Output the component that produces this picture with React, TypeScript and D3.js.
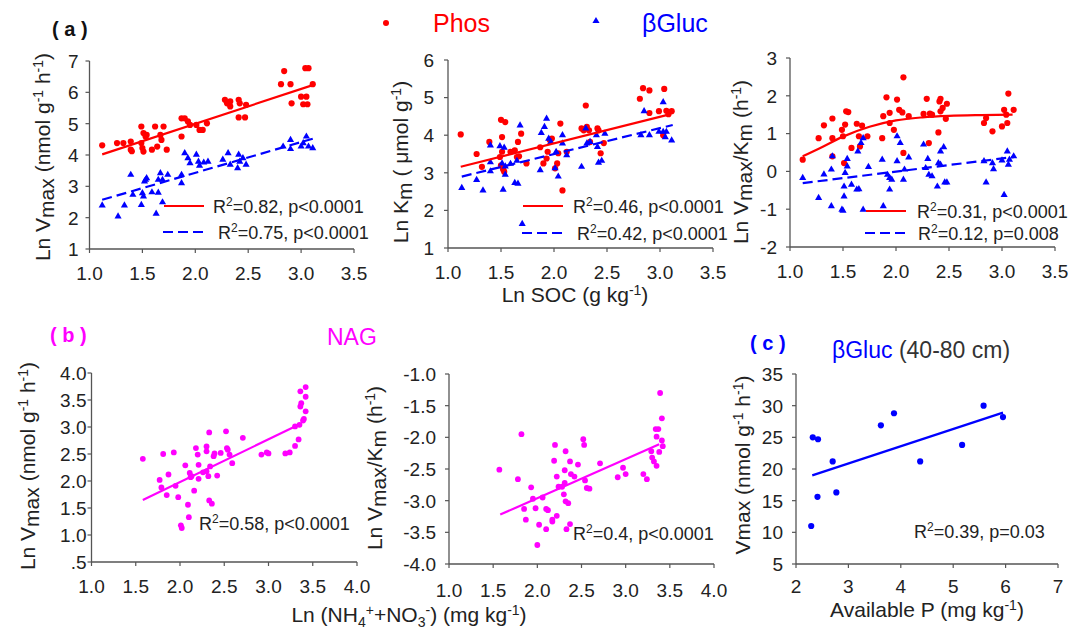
import React from "react";
import * as d3 from "d3";

type Pt = [number, number];

const FONT = "'Liberation Sans', Arial, Helvetica, sans-serif";
const RED = "#ff0000";
const BLUE = "#0000ff";
const MAG = "#ff00ff";
const AXIS = "#555555";
const TXT = "#222222";

// ---------- Panel (a) : Ln SOC ----------
const SOC_TICKS = [1.0, 1.5, 2.0, 2.5, 3.0, 3.5];
const SOC_TICK_LABELS = ["1.0", "1.5", "2.0", "2.5", "3.0", "3.5"];

const VMAX_TICKS = [1, 2, 3, 4, 5, 6, 7];
const KM_TICKS = [1, 2, 3, 4, 5, 6];
const VK_TICKS = [-2, -1, 0, 1, 2, 3];

const A1_PHOS: Pt[] = [
  [1.12, 4.31], [1.26, 4.38], [1.32, 4.38], [1.39, 4.43], [1.39, 4.17], [1.4, 4.12],
  [1.49, 4.91], [1.51, 4.7], [1.53, 4.59], [1.49, 4.38], [1.5, 4.22], [1.51, 4.11],
  [1.54, 4.64], [1.62, 4.91], [1.64, 4.27], [1.59, 4.17], [1.67, 4.64], [1.7, 4.91],
  [1.68, 4.48], [1.73, 4.17], [1.87, 4.59], [1.87, 5.17], [1.9, 5.17], [1.93, 5.07],
  [1.95, 4.96], [2.01, 4.96], [2.04, 4.8], [2.07, 4.8], [2.11, 5.01], [2.28, 5.76],
  [2.3, 5.65], [2.33, 5.55], [2.33, 5.71], [2.41, 5.76], [2.42, 5.65], [2.41, 5.2],
  [2.47, 5.2], [2.48, 5.6], [2.84, 6.68], [2.81, 6.26], [2.9, 6.26], [2.91, 5.65],
  [3.0, 5.86], [3.05, 5.86], [3.02, 5.62], [3.06, 5.62], [3.04, 6.77], [3.07, 6.77],
  [3.11, 6.26],
];
const A1_GLUC: Pt[] = [
  [1.12, 2.39], [1.27, 2.04], [1.33, 2.39], [1.39, 3.37], [1.41, 2.73], [1.49, 2.41],
  [1.51, 2.68], [1.52, 3.16], [1.53, 3.21], [1.54, 3.26], [1.5, 2.78], [1.59, 2.81],
  [1.63, 2.13], [1.65, 2.8], [1.65, 3.21], [1.67, 3.42], [1.69, 2.49], [1.69, 3.21],
  [1.74, 3.37], [1.87, 3.37], [1.87, 3.1], [1.9, 4.06], [1.93, 3.9], [1.95, 3.74],
  [2.01, 4.01], [2.03, 3.79], [2.04, 3.66], [2.08, 3.76], [2.12, 3.79], [2.26, 3.85],
  [2.31, 4.06], [2.33, 3.69], [2.4, 3.58], [2.41, 4.01], [2.42, 3.79], [2.45, 3.9],
  [2.48, 3.69], [2.83, 4.27], [2.9, 4.48], [2.9, 4.19], [3.0, 4.27], [3.02, 4.38],
  [3.05, 4.59], [3.07, 4.27], [3.11, 4.22],
];
const A1_PHOS_FIT: Pt[] = [[1.12, 4.02], [3.11, 6.23]];
const A1_GLUC_FIT: Pt[] = [[1.12, 2.57], [3.11, 4.52]];
const A1_STATS = ["=0.82, p<0.0001", "=0.75, p<0.0001"];

const A2_PHOS: Pt[] = [
  [1.12, 4.02], [1.27, 3.5], [1.32, 3.16], [1.39, 3.82], [1.5, 4.41], [1.54, 4.35],
  [1.51, 3.95], [1.49, 3.42], [1.5, 3.2], [1.52, 3.09], [1.53, 3.03], [1.51, 3.56],
  [1.59, 3.56], [1.63, 3.6], [1.65, 3.42], [1.67, 3.44], [1.66, 3.82], [1.69, 4.04],
  [1.74, 3.25], [1.87, 3.68], [1.9, 3.25], [1.93, 3.38], [1.94, 3.56], [1.96, 3.87],
  [1.98, 3.91], [2.01, 3.12], [2.03, 3.25], [2.06, 4.31], [2.08, 2.53], [2.04, 3.52],
  [2.12, 3.56], [2.26, 4.18], [2.28, 4.13], [2.3, 4.79], [2.31, 4.22], [2.33, 4.13],
  [2.34, 3.82], [2.41, 4.18], [2.42, 4.13], [2.44, 3.52], [2.47, 3.79], [2.81, 4.97],
  [2.84, 5.25], [2.9, 5.19], [2.9, 4.59], [2.99, 4.64], [3.03, 4.0], [3.04, 5.23],
  [3.06, 4.65], [3.08, 4.56], [3.11, 4.64],
];
const A2_GLUC: Pt[] = [
  [1.13, 2.6], [1.27, 2.81], [1.33, 2.53], [1.4, 3.73], [1.4, 3.04], [1.4, 3.28],
  [1.49, 3.71], [1.51, 3.25], [1.52, 2.55], [1.53, 3.67], [1.54, 2.95], [1.54, 3.17],
  [1.59, 3.24], [1.63, 2.73], [1.66, 2.71], [1.65, 3.32], [1.68, 4.26], [1.87, 3.07],
  [1.88, 4.06], [1.91, 4.22], [1.93, 4.44], [1.95, 3.91], [1.97, 3.82], [2.01, 3.12],
  [2.02, 3.56], [2.04, 2.9], [2.08, 4.0], [2.08, 3.78], [2.12, 3.47], [2.26, 3.16],
  [2.3, 4.18], [2.31, 3.78], [2.34, 3.82], [2.4, 4.0], [2.41, 3.69], [2.42, 3.27],
  [2.45, 3.32], [2.48, 4.04], [2.85, 4.64], [2.82, 4.0], [2.9, 4.0], [2.99, 4.09],
  [3.03, 4.88], [3.03, 4.09], [3.05, 3.95], [3.06, 4.09], [3.11, 3.86], [1.7, 1.64],
];
const A2_PHOS_FIT: Pt[] = [[1.12, 3.16], [3.1, 4.56]];
const A2_GLUC_FIT: Pt[] = [[1.13, 2.9], [3.12, 4.27]];
const A2_STATS = ["=0.46, p<0.0001", "=0.42, p<0.0001"];

const A3_PHOS: Pt[] = [
  [1.12, 0.31], [1.27, 0.88], [1.32, 1.22], [1.4, 1.4], [1.4, 0.88], [1.4, 0.4],
  [1.49, 1.1], [1.5, 0.93], [1.51, 0.22], [1.52, 1.24], [1.53, 1.59], [1.55, 1.57],
  [1.58, 0.62], [1.63, 1.26], [1.65, 0.93], [1.66, 0.66], [1.68, 1.21], [1.73, 0.93],
  [1.87, 0.88], [1.88, 1.46], [1.91, 1.96], [1.94, 1.55], [1.94, 1.28], [1.98, 1.1],
  [2.01, 1.9], [2.03, 1.63], [2.06, 1.56], [2.07, 2.49], [2.07, 0.49], [2.12, 1.46],
  [2.26, 1.52], [2.29, 1.92], [2.31, 0.75], [2.32, 1.53], [2.34, 1.5], [2.4, 1.03],
  [2.41, 1.85], [2.42, 1.92], [2.42, 1.59], [2.44, 1.68], [2.47, 1.39], [2.48, 1.79],
  [2.83, 1.28], [2.85, 1.41], [2.91, 1.06], [3.0, 1.19], [3.02, 1.63], [3.04, 1.5],
  [3.05, 1.28], [3.06, 2.06], [3.11, 1.63],
];
const A3_GLUC: Pt[] = [
  [1.12, -0.17], [1.27, -0.7], [1.32, -0.08], [1.39, -0.92], [1.39, 0.05], [1.4, 0.4],
  [1.49, -1.01], [1.5, -1.04], [1.51, -0.66], [1.51, -0.4], [1.52, -0.04], [1.54, 0.13],
  [1.54, 0.33], [1.58, -0.35], [1.63, -0.48], [1.65, -0.47], [1.64, 0.53], [1.67, 0.75],
  [1.69, 0.88], [1.69, -1.01], [1.74, 0.12], [1.87, 0.31], [1.88, -0.92], [1.92, -0.09],
  [1.94, -0.48], [1.94, -0.17], [1.96, -0.22], [2.01, 0.27], [2.01, 0.93], [2.04, 0.75],
  [2.07, -0.22], [2.08, 0.05], [2.12, 0.37], [2.26, 0.71], [2.28, 0.09], [2.3, 0.33],
  [2.31, -0.09], [2.34, -0.13], [2.39, -0.4], [2.4, 0.22], [2.42, 0.18], [2.42, 0.53],
  [2.45, 0.64], [2.46, -0.29], [2.48, -0.29], [2.83, 0.27], [2.85, -0.29], [2.91, 0.22],
  [2.92, 0.06], [3.0, 0.29], [3.02, -0.62], [3.05, 0.53], [3.06, 0.18], [3.07, 0.31],
  [3.11, 0.4],
];
const A3_PHOS_FIT: Pt[] = [
  [1.12, 0.4], [1.3, 0.64], [1.5, 0.92], [1.75, 1.18], [2.0, 1.35], [2.25, 1.43],
  [2.5, 1.47], [2.8, 1.49], [3.1, 1.5],
];
const A3_GLUC_FIT: Pt[] = [[1.12, -0.31], [3.11, 0.38]];
const A3_STATS = ["=0.31, p<0.0001", "=0.12, p=0.008"];

// ---------- Panel (b) : NAG ----------
const N_TICKS = [1.0, 1.5, 2.0, 2.5, 3.0, 3.5, 4.0];
const N_TICK_LABELS = ["1.0", "1.5", "2.0", "2.5", "3.0", "3.5", "4.0"];
const B1_Y_TICKS = [0.5, 1.0, 1.5, 2.0, 2.5, 3.0, 3.5, 4.0];
const B1_Y_LABELS = [".5", "1.0", "1.5", "2.0", "2.5", "3.0", "3.5", "4.0"];
const B2_Y_TICKS = [-4.0, -3.5, -3.0, -2.5, -2.0, -1.5, -1.0];
const B2_Y_LABELS = ["-4.0", "-3.5", "-3.0", "-2.5", "-2.0", "-1.5", "-1.0"];

const B1_NAG: Pt[] = [
  [1.58, 2.41], [1.77, 2.02], [1.79, 1.88], [1.81, 2.5], [1.85, 1.74], [1.87, 2.12],
  [1.93, 2.53], [1.95, 1.91], [1.98, 1.7], [2.01, 1.18], [2.02, 1.13], [2.06, 2.29],
  [2.09, 1.56], [2.1, 1.33], [2.11, 2.15], [2.12, 2.07], [2.13, 2.09], [2.16, 1.82],
  [2.18, 2.61], [2.2, 2.49], [2.21, 2.3], [2.21, 2.04], [2.26, 2.16], [2.3, 2.64],
  [2.3, 2.55], [2.3, 2.18], [2.32, 2.09], [2.33, 2.9], [2.33, 1.64], [2.36, 1.58],
  [2.34, 2.27], [2.38, 2.46], [2.39, 2.51], [2.42, 2.1], [2.46, 2.52], [2.52, 2.92],
  [2.53, 2.61], [2.54, 2.58], [2.56, 2.49], [2.59, 2.33], [2.71, 2.8], [2.92, 2.49],
  [2.98, 2.53], [3.0, 2.51], [3.19, 2.51], [3.24, 2.53], [3.3, 2.65], [3.3, 3.01],
  [3.34, 2.77], [3.35, 3.04], [3.36, 3.38], [3.36, 3.66], [3.37, 3.44], [3.39, 3.12],
  [3.4, 3.15], [3.42, 3.74], [3.42, 3.56], [3.42, 3.29],
];
const B1_FIT: Pt[] = [[1.58, 1.65], [3.34, 3.04]];
const B2_NAG: Pt[] = [
  [1.57, -2.51], [1.78, -2.66], [1.82, -1.95], [1.85, -3.13], [1.87, -3.3], [1.93, -2.79],
  [1.95, -2.97], [1.98, -3.12], [2.0, -3.7], [2.02, -3.38], [2.06, -2.95], [2.1, -3.45],
  [2.1, -3.13], [2.12, -3.15], [2.17, -3.3], [2.17, -3.33], [2.19, -2.37], [2.2, -2.12],
  [2.22, -2.62], [2.22, -3.24], [2.24, -2.78], [2.28, -2.78], [2.3, -2.9], [2.31, -2.52],
  [2.31, -2.72], [2.32, -3.01], [2.32, -2.22], [2.33, -3.45], [2.35, -3.04], [2.37, -3.37],
  [2.37, -2.38], [2.38, -2.58], [2.42, -2.62], [2.46, -2.43], [2.52, -2.03], [2.53, -2.12],
  [2.54, -2.68], [2.56, -2.8], [2.59, -2.81], [2.71, -2.41], [2.91, -2.63], [2.97, -2.48],
  [3.0, -2.58], [3.2, -2.58], [3.24, -2.66], [3.29, -2.22], [3.3, -2.32], [3.32, -2.38],
  [3.34, -1.87], [3.35, -2.45], [3.35, -1.99], [3.37, -1.87], [3.38, -2.23], [3.39, -1.3],
  [3.41, -1.7], [3.41, -2.05], [3.42, -2.14],
];
const B2_FIT: Pt[] = [[1.58, -3.22], [3.38, -2.11]];
const B_STATS = ["=0.58, p<0.0001", "=0.4, p<0.0001"];

// ---------- Panel (c) : βGluc 40-80 cm ----------
const P_TICKS = [2, 3, 4, 5, 6, 7];
const C_Y_TICKS = [5, 10, 15, 20, 25, 30, 35];
const C_GLUC: Pt[] = [
  [2.29, 11.0], [2.32, 25.0], [2.42, 24.7], [2.41, 15.6], [2.7, 21.2], [2.77, 16.3],
  [3.62, 26.9], [3.87, 28.8], [4.37, 21.2], [5.17, 23.8], [5.58, 30.0], [5.95, 28.2],
];
const C_FIT: Pt[] = [[2.31, 19.0], [5.95, 28.9]];
const C_STATS = "=0.39, p=0.03";

type Sc = d3.ScaleLinear<number, number>;

const TICK_FS = 19;
const TITLE_FS = 21;

const triPath = d3.symbol(d3.symbolTriangle, 22)() as string;

function Axes(props: {
  xs: Sc; ys: Sc; xTicks: number[]; xLabels: string[]; yTicks: number[]; yLabels: string[]; yGap: number; xDy?: number;
}) {
  const { xs, ys, xTicks, xLabels, yTicks, yLabels, yGap } = props;
  const xDy = props.xDy ?? 31;
  const x0 = xs.range()[0];
  const y0 = ys.range()[0];
  const yTop = ys(yTicks[yTicks.length - 1]);
  return (
    <g fontFamily={FONT}>
      <line x1={x0} x2={x0} y1={y0} y2={yTop} stroke={AXIS} strokeWidth={1.3} />
      <line x1={x0} x2={xs(xTicks[xTicks.length - 1])} y1={y0} y2={y0} stroke={AXIS} strokeWidth={1.3} />
      {yTicks.map((t, i) => (
        <g key={"y" + i}>
          <line x1={x0 - 4} x2={x0} y1={ys(t)} y2={ys(t)} stroke={AXIS} strokeWidth={1.2} />
          <text x={x0 - yGap} y={ys(t)} dy="0.36em" textAnchor="end" fontSize={TICK_FS} fill={TXT}>
            {yLabels[i]}
          </text>
        </g>
      ))}
      {xTicks.map((t, i) => (
        <g key={"x" + i}>
          <line x1={xs(t)} x2={xs(t)} y1={y0} y2={y0 + 4} stroke={AXIS} strokeWidth={1.2} />
          <text x={xs(t)} y={y0 + xDy} textAnchor="middle" fontSize={TICK_FS} fill={TXT}>
            {xLabels[i]}
          </text>
        </g>
      ))}
    </g>
  );
}

function Dots({ pts, xs, ys, color, r }: { pts: Pt[]; xs: Sc; ys: Sc; color: string; r: number }) {
  return (
    <g>
      {pts.map((p, i) => (
        <circle key={i} cx={xs(p[0])} cy={ys(p[1])} r={r} fill={color} />
      ))}
    </g>
  );
}

function Tris({ pts, xs, ys, color }: { pts: Pt[]; xs: Sc; ys: Sc; color: string }) {
  return (
    <g>
      {pts.map((p, i) => (
        <path key={i} d={triPath} transform={`translate(${xs(p[0])},${ys(p[1])})`} fill={color} />
      ))}
    </g>
  );
}

function Fit({ pts, xs, ys, color, dash, curve }: { pts: Pt[]; xs: Sc; ys: Sc; color: string; dash?: string; curve?: boolean }) {
  const gen = d3
    .line<Pt>()
    .x((d) => xs(d[0]))
    .y((d) => ys(d[1]))
    .curve(curve ? d3.curveMonotoneX : d3.curveLinear);
  return <path d={gen(pts) as string} fill="none" stroke={color} strokeWidth={2.2} strokeDasharray={dash} />;
}

function Stat({ x, y, text }: { x: number; y: number; text: string }) {
  return (
    <text x={x} y={y} fontFamily={FONT} fontSize={18} fill={TXT}>
      R<tspan dy={-7} fontSize={12}>2</tspan>
      <tspan dy={7}>{text}</tspan>
    </text>
  );
}

function LegendPair({ lx, ly1, ly2, tx1, tx2, stats, dashColor, solidColor }: any) {
  return (
    <g>
      <line x1={lx} x2={lx + 40} y1={ly1} y2={ly1} stroke={solidColor} strokeWidth={2.2} />
      <line x1={lx - 1} x2={lx + 39} y1={ly2} y2={ly2} stroke={dashColor} strokeWidth={2.2} strokeDasharray="10,5" />
      <Stat x={tx1} y={ly1 + 7} text={stats[0]} />
      <Stat x={tx2} y={ly2 + 7} text={stats[1]} />
    </g>
  );
}

const sup = (s: string) => [
  <tspan key="a" dy={-7} fontSize={14}>{s}</tspan>,
];

export default function App() {
  const x1 = d3.scaleLinear().domain([1, 3.5]).range([89.5, 354]);
  const y1 = d3.scaleLinear().domain([1, 7]).range([249, 61]);
  const x2 = d3.scaleLinear().domain([1, 3.5]).range([448, 713]);
  const y2 = d3.scaleLinear().domain([1, 6]).range([248, 60]);
  const x3 = d3.scaleLinear().domain([1, 3.5]).range([790, 1055]);
  const y3 = d3.scaleLinear().domain([-2, 3]).range([247, 58]);
  const x4 = d3.scaleLinear().domain([1, 4]).range([91.5, 357]);
  const y4 = d3.scaleLinear().domain([0.5, 4]).range([562, 373]);
  const x5 = d3.scaleLinear().domain([1, 4]).range([449, 714]);
  const y5 = d3.scaleLinear().domain([-4, -1]).range([564, 374]);
  const x6 = d3.scaleLinear().domain([2, 7]).range([796, 1058]);
  const y6 = d3.scaleLinear().domain([5, 35]).range([564, 374]);

  const title = { fontFamily: FONT, fontSize: TITLE_FS, fill: TXT } as any;

  return (
    <svg width={1069} height={629} style={{ position: "absolute", left: 0, top: 0, background: "#fff" }}>
      <rect width={1069} height={629} fill="#fff" />

      {/* Header (a) */}
      <text x={52} y={36} fontFamily={FONT} fontSize={20} fontWeight="bold" fill="#111">( a )</text>
      <circle cx={386} cy={23} r={3} fill={RED} />
      <text x={433} y={32} fontFamily={FONT} fontSize={25} fill={RED}>Phos</text>
      <path d={triPath} transform="translate(596,21)" fill={BLUE} />
      <text x={642} y={32} fontFamily={FONT} fontSize={25} fill={BLUE}>βGluc</text>

      {/* Panel a1 */}
      <Axes xs={x1} ys={y1} xTicks={SOC_TICKS} xLabels={SOC_TICK_LABELS} yTicks={VMAX_TICKS} yLabels={VMAX_TICKS.map(String)} yGap={11} />
      <Dots pts={A1_PHOS} xs={x1} ys={y1} color={RED} r={3.1} />
      <Tris pts={A1_GLUC} xs={x1} ys={y1} color={BLUE} />
      <Fit pts={A1_PHOS_FIT} xs={x1} ys={y1} color={RED} />
      <Fit pts={A1_GLUC_FIT} xs={x1} ys={y1} color={BLUE} dash="10,5" />
      <LegendPair lx={164} ly1={206} ly2={232} tx1={213} tx2={218} stats={A1_STATS} solidColor={RED} dashColor={BLUE} />
      <text transform="translate(50,157) rotate(-90)" textAnchor="middle" {...title}>
        Ln V<tspan dy={4}>max</tspan><tspan dy={-4}> (nmol g</tspan>{sup("-1")}<tspan dy={7}> h</tspan>{sup("-1")}<tspan dy={7}>)</tspan>
      </text>

      {/* Panel a2 */}
      <Axes xs={x2} ys={y2} xTicks={SOC_TICKS} xLabels={SOC_TICK_LABELS} yTicks={KM_TICKS} yLabels={KM_TICKS.map(String)} yGap={14} />
      <Dots pts={A2_PHOS} xs={x2} ys={y2} color={RED} r={3.1} />
      <Tris pts={A2_GLUC} xs={x2} ys={y2} color={BLUE} />
      <Fit pts={A2_PHOS_FIT} xs={x2} ys={y2} color={RED} />
      <Fit pts={A2_GLUC_FIT} xs={x2} ys={y2} color={BLUE} dash="10,5" />
      <LegendPair lx={523} ly1={206} ly2={233} tx1={573} tx2={577} stats={A2_STATS} solidColor={RED} dashColor={BLUE} />
      <text transform="translate(408,162) rotate(-90)" textAnchor="middle" {...title}>
        Ln K<tspan dy={4}>m</tspan><tspan dy={-4}> ( μmol g</tspan>{sup("-1")}<tspan dy={7}>)</tspan>
      </text>
      <text x={575} y={302} textAnchor="middle" {...title}>
        Ln SOC (g kg{sup("-1")}<tspan dy={7}>)</tspan>
      </text>

      {/* Panel a3 */}
      <Axes xs={x3} ys={y3} xTicks={SOC_TICKS} xLabels={SOC_TICK_LABELS} yTicks={VK_TICKS} yLabels={VK_TICKS.map(String)} yGap={13} />
      <Dots pts={A3_PHOS} xs={x3} ys={y3} color={RED} r={3.1} />
      <Tris pts={A3_GLUC} xs={x3} ys={y3} color={BLUE} />
      <Fit pts={A3_PHOS_FIT} xs={x3} ys={y3} color={RED} curve />
      <Fit pts={A3_GLUC_FIT} xs={x3} ys={y3} color={BLUE} dash="10,5" />
      <LegendPair lx={866} ly1={211} ly2={233} tx1={917} tx2={918} stats={A3_STATS} solidColor={RED} dashColor={BLUE} />
      <text transform="translate(748,162) rotate(-90)" textAnchor="middle" {...title}>
        Ln V<tspan dy={4}>max</tspan><tspan dy={-4}>/K</tspan><tspan dy={4}>m</tspan><tspan dy={-4}> (h</tspan>{sup("-1")}<tspan dy={7}>)</tspan>
      </text>

      {/* Header (b) */}
      <text x={50} y={342} fontFamily={FONT} fontSize={20} fontWeight="bold" fill={MAG}>( b )</text>
      <text x={327} y={345} fontFamily={FONT} fontSize={23} fill={MAG}>NAG</text>

      {/* Panel b1 */}
      <Axes xs={x4} ys={y4} xTicks={N_TICKS} xLabels={N_TICK_LABELS} yTicks={B1_Y_TICKS} yLabels={B1_Y_LABELS} yGap={5} />
      <Dots pts={B1_NAG} xs={x4} ys={y4} color={MAG} r={2.9} />
      <Fit pts={B1_FIT} xs={x4} ys={y4} color={MAG} />
      <Stat x={199} y={530} text={B_STATS[0]} />
      <text transform="translate(35,466) rotate(-90)" textAnchor="middle" {...title}>
        Ln V<tspan dy={4}>max</tspan><tspan dy={-4}> (nmol g</tspan>{sup("-1")}<tspan dy={7}> h</tspan>{sup("-1")}<tspan dy={7}>)</tspan>
      </text>

      {/* Panel b2 */}
      <Axes xs={x5} ys={y5} xTicks={N_TICKS} xLabels={N_TICK_LABELS} yTicks={B2_Y_TICKS} yLabels={B2_Y_LABELS} yGap={13} xDy={33} />
      <Dots pts={B2_NAG} xs={x5} ys={y5} color={MAG} r={2.9} />
      <Fit pts={B2_FIT} xs={x5} ys={y5} color={MAG} />
      <Stat x={573} y={540} text={B_STATS[1]} />
      <text transform="translate(382,468) rotate(-90)" textAnchor="middle" {...title}>
        Ln V<tspan dy={4}>max</tspan><tspan dy={-4}>/K</tspan><tspan dy={4}>m</tspan><tspan dy={-4}> (h</tspan>{sup("-1")}<tspan dy={7}>)</tspan>
      </text>
      <text x={409} y={622} textAnchor="middle" {...title}>
        Ln (NH<tspan dy={5} fontSize={14}>4</tspan><tspan dy={-12} fontSize={14}>+</tspan><tspan dy={7}>+NO</tspan><tspan dy={5} fontSize={14}>3</tspan><tspan dy={-12} fontSize={14}>-</tspan><tspan dy={7}>) (mg kg</tspan>{sup("-1")}<tspan dy={7}>)</tspan>
      </text>

      {/* Header (c) */}
      <text x={750} y={350} fontFamily={FONT} fontSize={20} fontWeight="bold" fill={BLUE}>( c )</text>
      <text x={832} y={358} fontFamily={FONT} fontSize={23}>
        <tspan fill={BLUE}>βGluc</tspan><tspan fill="#333"> (40-80 cm)</tspan>
      </text>

      {/* Panel c */}
      <Axes xs={x6} ys={y6} xTicks={P_TICKS} xLabels={P_TICKS.map(String)} yTicks={C_Y_TICKS} yLabels={C_Y_TICKS.map(String)} yGap={13} xDy={29} />
      <Dots pts={C_GLUC} xs={x6} ys={y6} color={BLUE} r={3.1} />
      <Fit pts={C_FIT} xs={x6} ys={y6} color={BLUE} />
      <Stat x={914} y={538} text={C_STATS} />
      <text transform="translate(750,465) rotate(-90)" textAnchor="middle" {...title}>
        Vmax (nmol g{sup("-1")}<tspan dy={7}> h</tspan>{sup("-1")}<tspan dy={7}>)</tspan>
      </text>
      <text x={927} y={617} textAnchor="middle" {...title}>
        Available P (mg kg{sup("-1")}<tspan dy={7}>)</tspan>
      </text>
    </svg>
  );
}
